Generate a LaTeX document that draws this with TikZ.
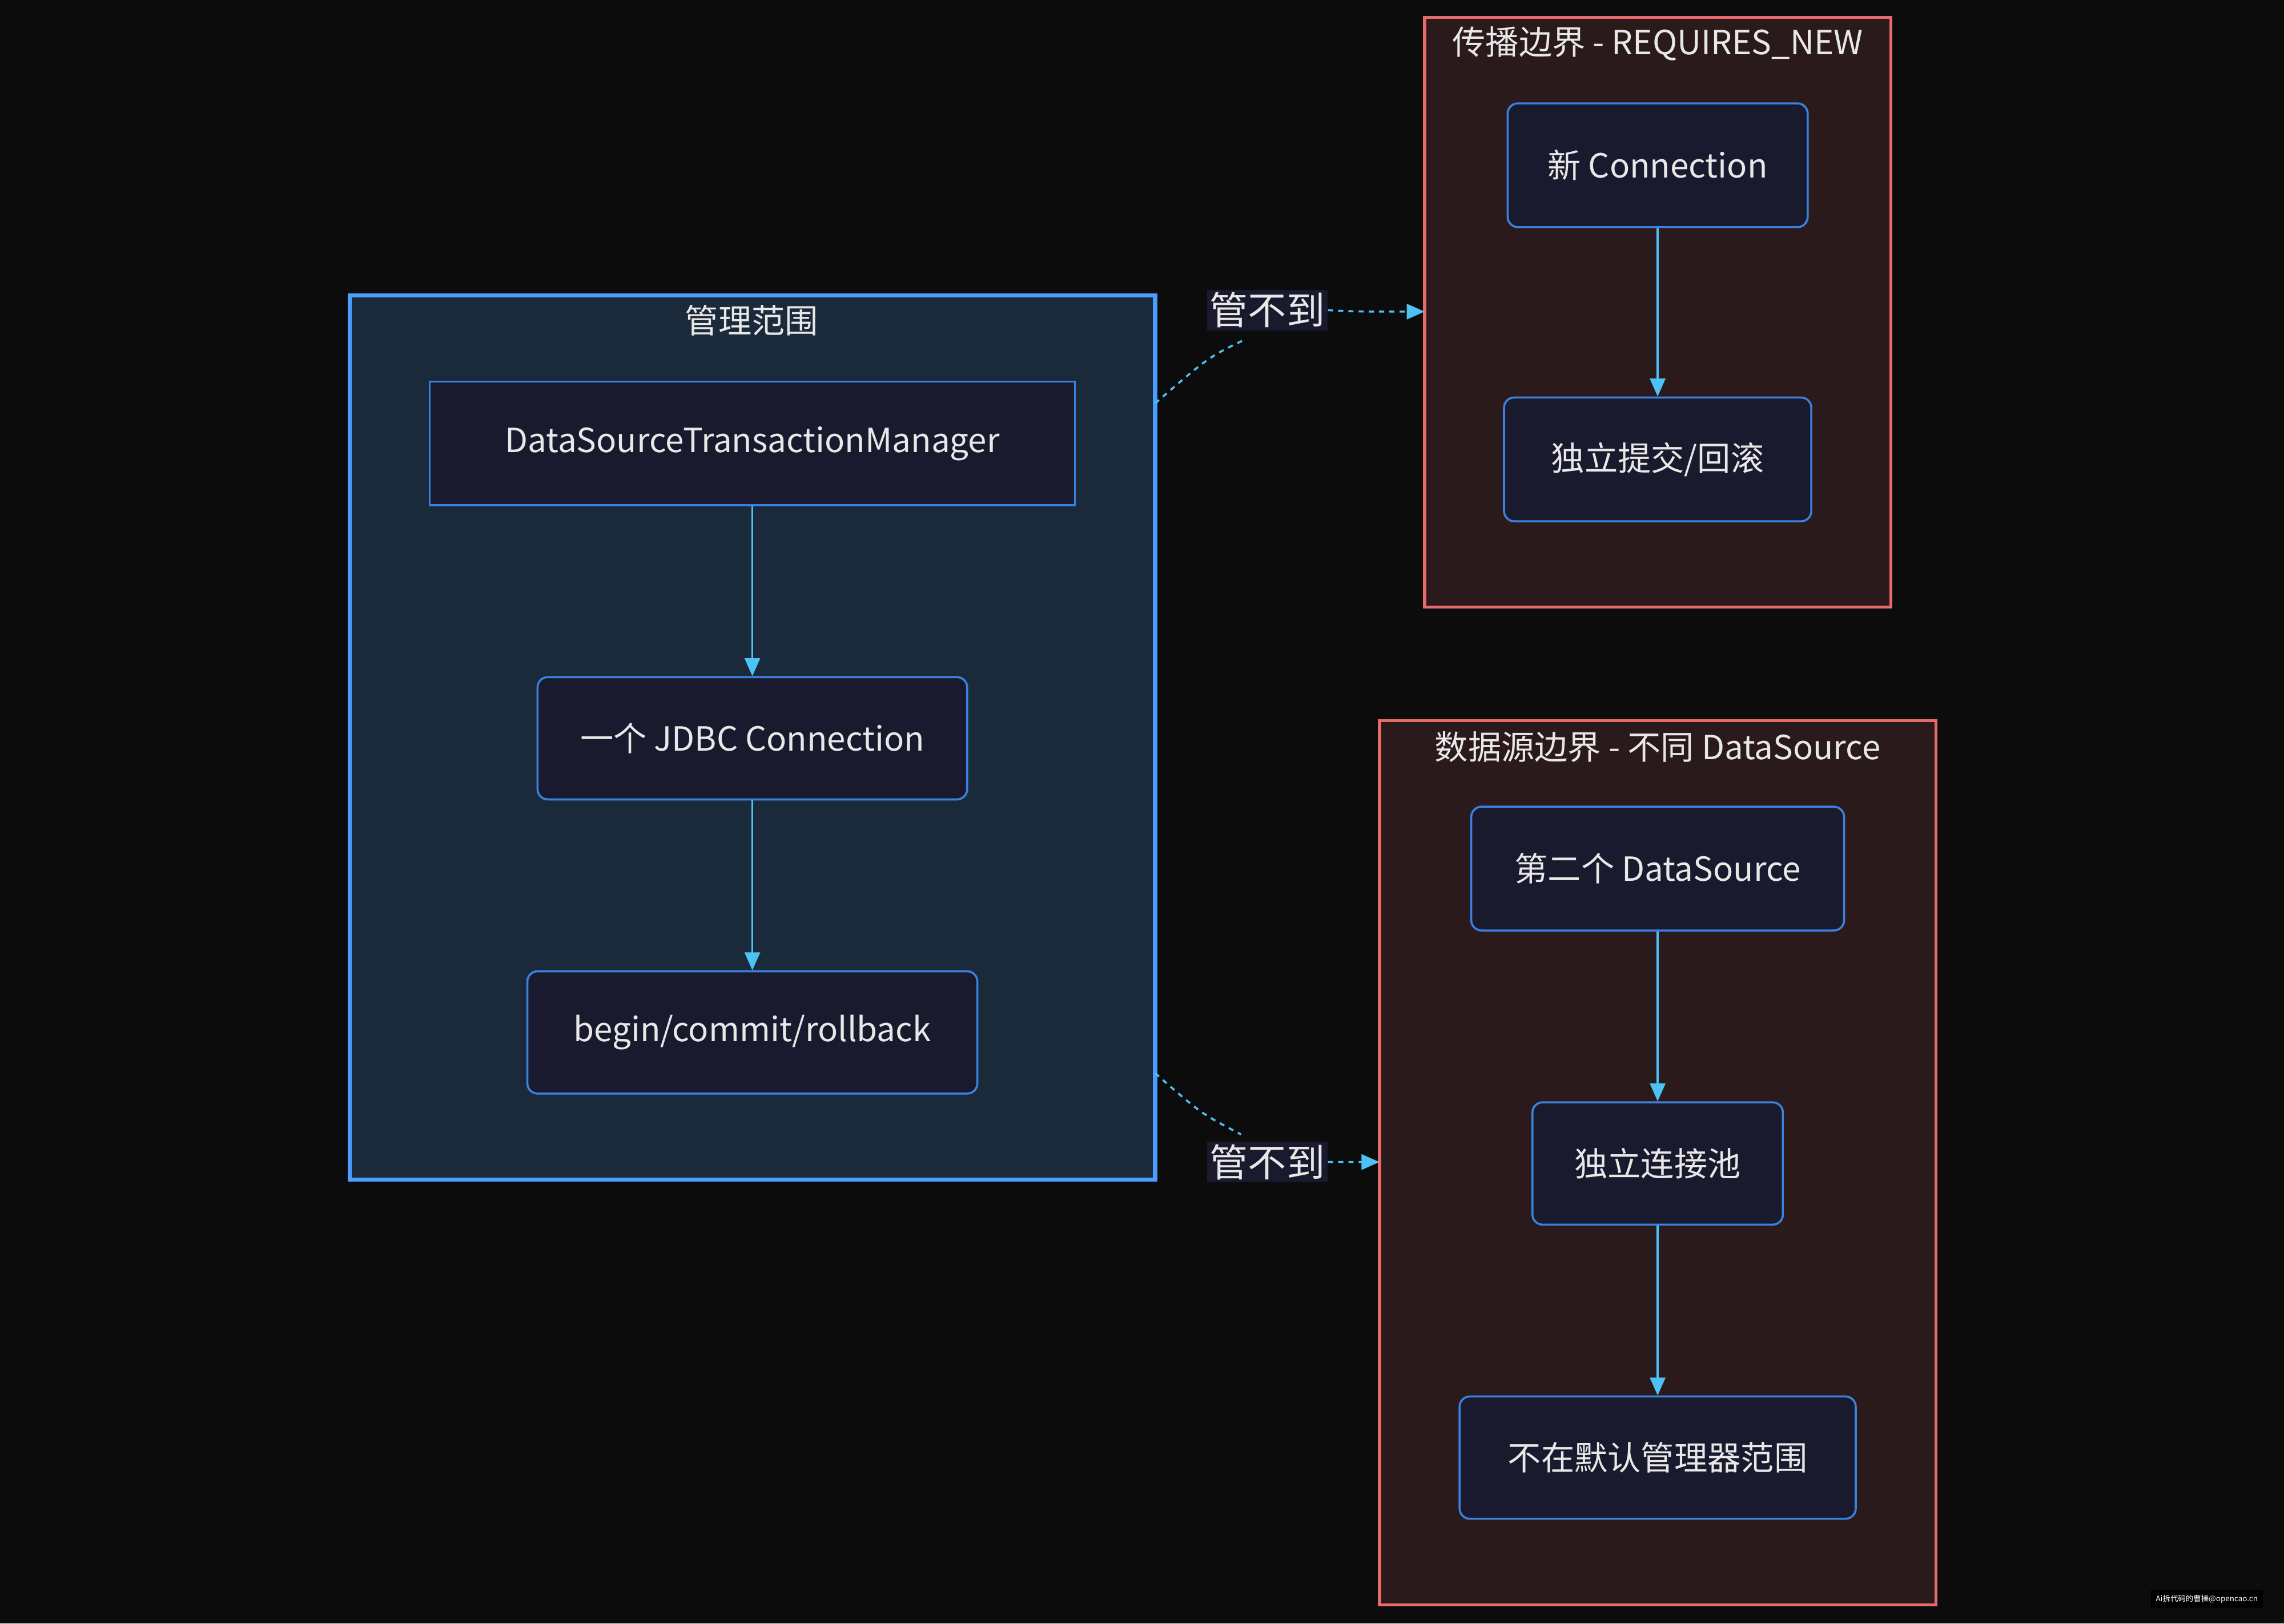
\documentclass[tikz,border=0pt]{standalone}
\usepackage{fontspec}
\setmainfont{Noto Sans CJK SC}
\usetikzlibrary{arrows.meta}
\definecolor{bgc}{HTML}{0C0C0C}
\definecolor{cblue}{HTML}{1B2A3A}
\definecolor{cred}{HTML}{2A1A1C}
\definecolor{nfill}{HTML}{1A1A2E}
\definecolor{bstroke}{HTML}{4A9EFF}
\definecolor{nstroke}{HTML}{3B82E0}
\definecolor{rstroke}{HTML}{E86A6A}
\definecolor{edgec}{HTML}{4CC2F5}
\definecolor{txt}{HTML}{E8E8E8}
\begin{document}
\begin{tikzpicture}[x=0.02cm,y=0.02cm,
  nd/.style={draw=nstroke, fill=nfill, line width=0.8pt, rounded corners=4pt, text=txt, font=\fontsize{13}{15}\selectfont, inner sep=0pt},
  cl/.style={line width=1.2pt},
  ttl/.style={text=txt, font=\fontsize{13}{15}\selectfont},
  arr/.style={draw=edgec, line width=0.8pt, -{Triangle[length=7pt,width=6pt]}},
  darr/.style={arr, dash pattern=on 2pt off 2pt},
  lbl/.style={fill=nfill, text=txt, font=\fontsize{15}{17}\selectfont, inner sep=1pt}]
\fill[bgc] (0,0) rectangle (1568,1115);
% clusters
\draw[cl, draw=bstroke, fill=cblue, line width=1.6pt] (240,305) rectangle (793,912);
\node[ttl] (t1) at (516,895) {管理范围};
\draw[cl, draw=rstroke, fill=cred] (978,698) rectangle (1298,1103);
\node[ttl] (t2) at (1138,1085) {传播边界 - REQUIRES\_NEW};
\draw[cl, draw=rstroke, fill=cred] (947,13) rectangle (1329,620);
\node[ttl] (t3) at (1138,602) {数据源边界 - 不同 DataSource};
\coordinate (c1a) at (793,838);
\coordinate (c1b) at (978,901);
\coordinate (c2a) at (793,378);
\coordinate (c2b) at (947,317);
% nodes
\node[nd, rounded corners=0pt, minimum width=443\pgflinewidth/0.8*0.02cm/1pt*0+8.86cm, minimum height=1.7cm] (dstm) at (516.5,810.5) {DataSourceTransactionManager};
\node[nd, minimum width=5.9cm, minimum height=1.68cm] (jdbc) at (516.5,608) {一个 JDBC Connection};
\node[nd, minimum width=6.18cm, minimum height=1.68cm] (bcr) at (516.5,406) {begin/commit/rollback};
\node[nd, minimum width=4.12cm, minimum height=1.7cm] (nc) at (1138,1001.5) {新 Connection};
\node[nd, minimum width=4.22cm, minimum height=1.7cm] (ind) at (1138,799.5) {独立提交/回滚};
\node[nd, minimum width=5.12cm, minimum height=1.7cm] (ds2) at (1138,518.5) {第二个 DataSource};
\node[nd, minimum width=3.44cm, minimum height=1.68cm] (pool) at (1138,316) {独立连接池};
\node[nd, minimum width=5.44cm, minimum height=1.68cm] (nm) at (1138,114) {不在默认管理器范围};
% edges
\draw[arr] (dstm) -- (jdbc);
\draw[arr] (jdbc) -- (bcr);
\draw[arr] (nc) -- (ind);
\draw[arr] (ds2) -- (pool);
\draw[arr] (pool) -- (nm);
\node[lbl] (l1) at (870,902) {管不到};
\node[lbl] (l2) at (870,317) {管不到};
\draw[darr] (c1a) .. controls (830,870) .. (855,882) (l1.east) .. controls (930,901) .. (c1b);
\draw[darr] (c2a) .. controls (825,350) .. (852,336) (l2.east) -- (c2b);
\node[lbl] at (870,902) {管不到};
\node[lbl] at (870,317) {管不到};
\node[fill=black, text=white!70, font=\fontsize{3}{4}\selectfont, inner sep=2pt] (wm) at (1515,17) {Ai拆代码的曹操@opencao.cn};
\end{tikzpicture}
\end{document}
